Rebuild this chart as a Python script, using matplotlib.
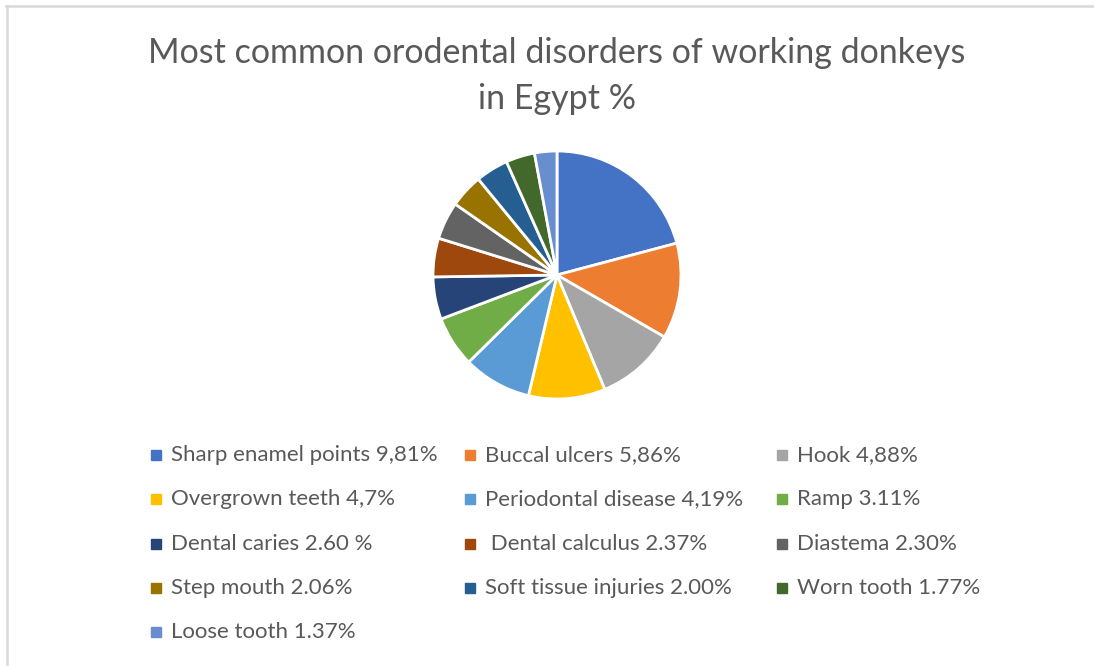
import matplotlib
matplotlib.use("Agg")
import matplotlib.pyplot as plt
from matplotlib.lines import Line2D

categories = ["Sharp enamel points 9,81%", "Buccal ulcers 5,86%", "Hook 4,88%",
              "Overgrown teeth 4,7%", "Periodontal disease 4,19%", "Ramp 3.11%",
              "Dental caries 2.60 %", " Dental calculus 2.37%", "Diastema 2.30%",
              "Step mouth 2.06%", "Soft tissue injuries 2.00%", "Worn tooth 1.77%",
              "Loose tooth 1.37%"]
values = [9.81, 5.86, 4.88, 4.7, 4.19, 3.11, 2.60, 2.37, 2.30, 2.06, 2.00, 1.77, 1.37]
colors = ["#4472C4", "#ED7D31", "#A5A5A5", "#FFC000", "#5B9BD5", "#70AD47",
          "#264478", "#9E480E", "#636363", "#997300", "#255E91", "#43682B", "#698ED0"]
title = "Most common orodental disorders of working donkeys\nin Egypt %"

W, H = 1094, 666
fig = plt.figure(figsize=(W / 100, H / 100), dpi=100)
fig.patch.set_facecolor("white")

# border lines (top and left)
fig.add_artist(Line2D([6 / W, 1], [1 - 6 / H, 1 - 6 / H], color="#D9D9D9", lw=1.8,
                      transform=fig.transFigure))
fig.add_artist(Line2D([7 / W, 7 / W], [0, 1 - 6 / H], color="#D9D9D9", lw=1.8,
                      transform=fig.transFigure))

# title
fig.text(557 / W, 1 - 76 / H, title, ha="center", va="center", fontsize=24.5,
         color="#595959", family=["Lato", "DejaVu Sans"], fontweight="normal",
         linespacing=1.55)

# pie
cx, cy, r = 557, 275, 124
ax = fig.add_axes([(cx - r) / W, (H - cy - r) / H, 2 * r / W, 2 * r / H])
ax.pie(values, colors=colors, startangle=90, counterclock=False, radius=1,
       wedgeprops=dict(edgecolor="white", linewidth=2.0))
ax.set_xlim(-1, 1)
ax.set_ylim(-1, 1)
ax.set_aspect("equal")
ax.axis("off")

# legend (3 columns)
col_x = [156, 470, 782]
row_y0, row_dy = 455, 44.3
for i, (lab, col) in enumerate(zip(categories, colors)):
    c, rr = i % 3, i // 3
    x = col_x[c]
    y = row_y0 + rr * row_dy
    fig.add_artist(Line2D([x / W], [1 - y / H], marker="s", markersize=6.5,
                          color=col, linestyle="none", transform=fig.transFigure))
    fig.text((x + 15) / W, 1 - y / H, lab, ha="left", va="center", fontsize=16,
             color="#595959", family=["Lato", "DejaVu Sans"])

fig.savefig("out.png", dpi=100, facecolor="white")
